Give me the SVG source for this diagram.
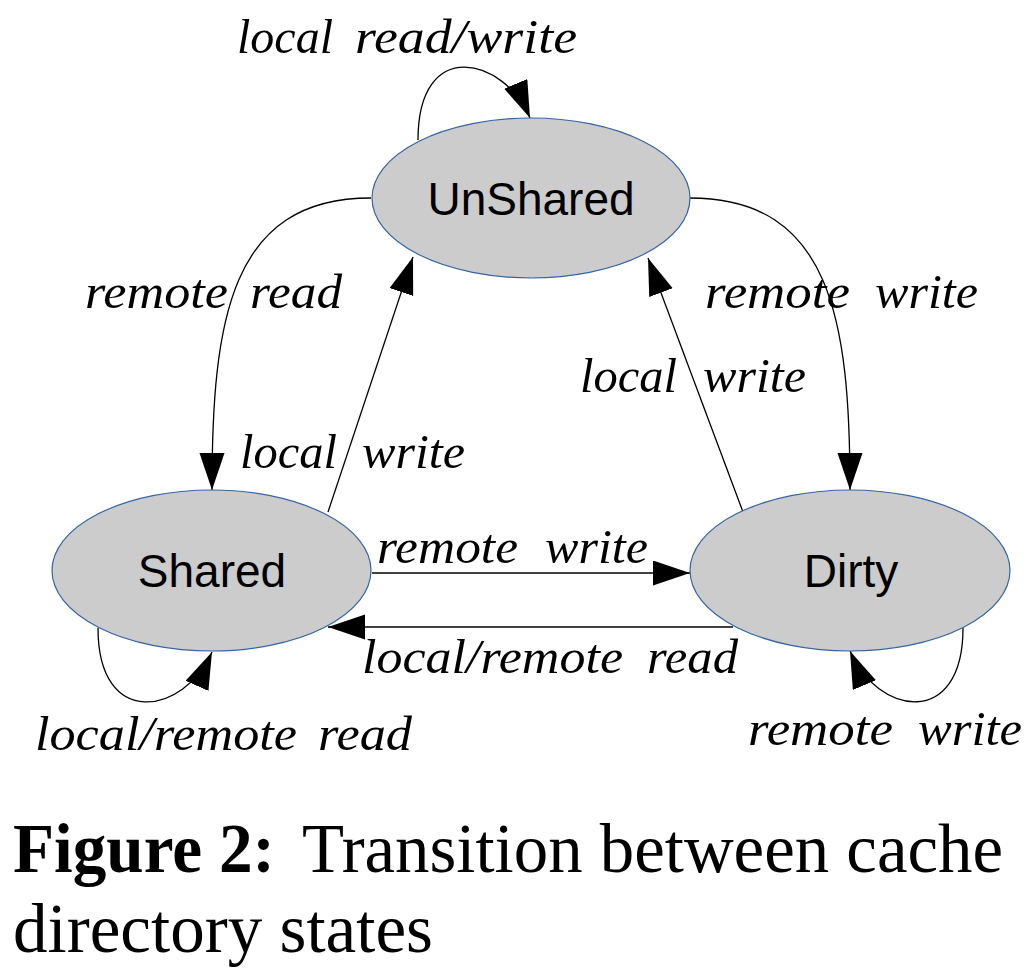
<svg xmlns="http://www.w3.org/2000/svg" width="1036" height="972" viewBox="0 0 1036 972">
<style>
.node{fill:#cccccc;stroke:#3465a4;stroke-width:1.2}
.nlabel{font-family:"Liberation Sans",Arial,sans-serif;font-size:46px;fill:#000;text-anchor:middle}
.edge{fill:none;stroke:#000;stroke-width:1.3}
.elabel{font-family:"Liberation Serif","Times New Roman",serif;font-style:italic;font-size:49px;fill:#000}
.cap{font-family:"Liberation Serif","Times New Roman",serif;font-size:70px;fill:#000}
</style>
<defs>
<marker id="arr" markerUnits="userSpaceOnUse" markerWidth="38" markerHeight="26" refX="37" refY="12.5" orient="auto">
<path d="M0,0 L37,12.5 L0,25 z" fill="#000"/>
</marker>
</defs>
<rect width="1036" height="972" fill="#fff"/>
<g id="connectors">
<path class="edge" d="M418,140 C418,35 505,58 530,118" marker-end="url(#arr)"/>
<path class="edge" d="M371,198 C230,198 212,320 212,490" marker-end="url(#arr)"/>
<path class="edge" d="M690,198 C831,198 850,320 850,490" marker-end="url(#arr)"/>
<path class="edge" d="M328,512 L413,257" marker-end="url(#arr)"/>
<path class="edge" d="M743,512 L648,258" marker-end="url(#arr)"/>
<path class="edge" d="M372,573 L690,573" marker-end="url(#arr)"/>
<path class="edge" d="M733,627 L328,627" marker-end="url(#arr)"/>
<path class="edge" d="M98,628 C98,730 184,715 212,652" marker-end="url(#arr)"/>
<path class="edge" d="M963,628 C963,730 877,715 850,651" marker-end="url(#arr)"/>
</g>
<g id="node-unshared">
<ellipse class="node" cx="531" cy="198" rx="159" ry="80"/>
<text class="nlabel" x="531" y="215">UnShared</text>
</g>
<g id="node-shared">
<ellipse class="node" cx="211.5" cy="570.5" rx="159.5" ry="80.5"/>
<text class="nlabel" x="212" y="587">Shared</text>
</g>
<g id="node-dirty">
<ellipse class="node" cx="850" cy="570.5" rx="160" ry="80.5"/>
<text class="nlabel" x="851" y="587">Dirty</text>
</g>
<g id="edge-labels">
<text class="elabel" y="53"><tspan x="237" textLength="96" lengthAdjust="spacingAndGlyphs">local</tspan> <tspan x="355" textLength="222" lengthAdjust="spacingAndGlyphs">read/write</tspan></text>
<text class="elabel" y="308"><tspan x="85" textLength="143" lengthAdjust="spacingAndGlyphs">remote</tspan> <tspan x="250" textLength="92" lengthAdjust="spacingAndGlyphs">read</tspan></text>
<text class="elabel" y="308"><tspan x="705" textLength="145" lengthAdjust="spacingAndGlyphs">remote</tspan> <tspan x="875" textLength="103" lengthAdjust="spacingAndGlyphs">write</tspan></text>
<text class="elabel" y="468"><tspan x="240" textLength="97" lengthAdjust="spacingAndGlyphs">local</tspan> <tspan x="362" textLength="103" lengthAdjust="spacingAndGlyphs">write</tspan></text>
<text class="elabel" y="392"><tspan x="580" textLength="97" lengthAdjust="spacingAndGlyphs">local</tspan> <tspan x="703" textLength="103" lengthAdjust="spacingAndGlyphs">write</tspan></text>
<text class="elabel" y="563"><tspan x="377" textLength="141" lengthAdjust="spacingAndGlyphs">remote</tspan> <tspan x="545" textLength="103" lengthAdjust="spacingAndGlyphs">write</tspan></text>
<text class="elabel" y="673"><tspan x="362" textLength="261" lengthAdjust="spacingAndGlyphs">local/remote</tspan> <tspan x="647" textLength="91" lengthAdjust="spacingAndGlyphs">read</tspan></text>
<text class="elabel" y="750"><tspan x="35" textLength="262" lengthAdjust="spacingAndGlyphs">local/remote</tspan> <tspan x="318" textLength="94" lengthAdjust="spacingAndGlyphs">read</tspan></text>
<text class="elabel" y="745"><tspan x="748" textLength="145" lengthAdjust="spacingAndGlyphs">remote</tspan> <tspan x="918" textLength="104" lengthAdjust="spacingAndGlyphs">write</tspan></text>
</g>
<g id="caption">
<text class="cap" x="13" y="872" font-weight="bold" textLength="262" lengthAdjust="spacingAndGlyphs">Figure 2:</text>
<text class="cap" x="302" y="872" textLength="701" lengthAdjust="spacingAndGlyphs">Transition between cache</text>
<text class="cap" x="13" y="952" textLength="420" lengthAdjust="spacingAndGlyphs">directory states</text>
</g>
</svg>
